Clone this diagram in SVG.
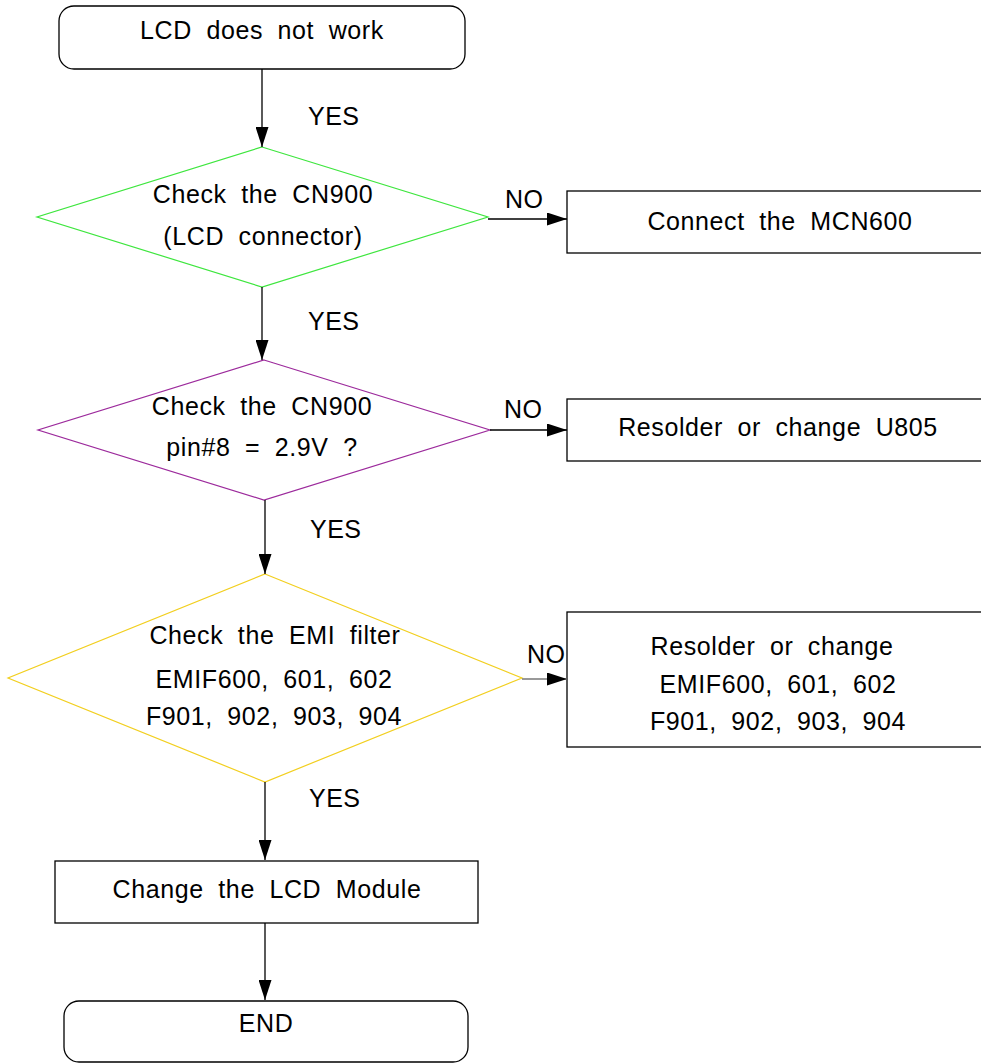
<svg xmlns="http://www.w3.org/2000/svg" width="981" height="1064" viewBox="0 0 981 1064">
<style>
  text { font-family: "Liberation Sans", Arial, sans-serif; font-size: 25px; fill: #000; letter-spacing: 0.6px; word-spacing: 7px; }
  .c { text-anchor: middle; }
  .lbl { font-size: 25px; letter-spacing: 0.5px; word-spacing: 0; }
  .box { fill: #fff; stroke: #000; stroke-width: 1.3; }
  .dia { fill: #fff; stroke-width: 1.2; }
  .conn line { stroke: #000; stroke-width: 1.3; marker-end: url(#arr); }
</style>
<defs>
  <marker id="arr" viewBox="0 0 20 13" markerWidth="20" markerHeight="13" refX="20" refY="6.5" orient="auto" markerUnits="userSpaceOnUse">
    <path d="M0,0 L20,6.5 L0,13 z" fill="#000"/>
  </marker>
</defs>
<rect width="981" height="1064" fill="#fff"/>

<g id="start">
  <rect class="box" x="59" y="6" width="406" height="63" rx="15" ry="15"/>
  <text class="c" x="262" y="39">LCD does not work</text>
</g>

<g id="check-cn900">
  <polygon class="dia" stroke="#3ee63e" points="262,147 488,217 262,287 37,217"/>
  <text class="c" x="263" y="203">Check the CN900</text>
  <text class="c" x="263" y="245">(LCD connector)</text>
</g>

<g id="connect-mcn600">
  <rect class="box" x="567" y="191" width="430" height="62"/>
  <text class="c" x="780" y="230">Connect the MCN600</text>
</g>

<g id="check-pin8">
  <polygon class="dia" stroke="#9c2a9c" points="264,360 490,430 264,500 38,430"/>
  <text class="c" x="262" y="415">Check the CN900</text>
  <text class="c" x="262" y="456">pin#8 = 2.9V ?</text>
</g>

<g id="resolder-u805">
  <rect class="box" x="567" y="399" width="430" height="62"/>
  <text class="c" x="778" y="436">Resolder or change U805</text>
</g>

<g id="check-emi">
  <polygon class="dia" stroke="#f2cf1f" points="265,574 522,678 265,782 8,678"/>
  <text class="c" x="275" y="644">Check the EMI filter</text>
  <text class="c" x="274" y="688">EMIF600, 601, 602</text>
  <text class="c" x="274" y="725">F901, 902, 903, 904</text>
</g>

<g id="resolder-emi">
  <rect class="box" x="567" y="612" width="430" height="135"/>
  <text class="c" x="772" y="655">Resolder or change</text>
  <text class="c" x="778" y="693">EMIF600, 601, 602</text>
  <text class="c" x="778" y="730">F901, 902, 903, 904</text>
</g>

<g id="change-lcd">
  <rect class="box" x="55" y="861" width="423" height="62"/>
  <text class="c" x="267" y="898">Change the LCD Module</text>
</g>

<g id="end">
  <rect class="box" x="64" y="1001" width="404" height="61" rx="15" ry="15"/>
  <text class="c" x="266" y="1032">END</text>
</g>

<g id="connectors" class="conn">
  <line x1="262" y1="69" x2="262" y2="147"/>
  <line x1="262" y1="287" x2="262" y2="360"/>
  <line x1="265" y1="500" x2="265" y2="574"/>
  <line x1="265" y1="782" x2="265" y2="860"/>
  <line x1="265" y1="923" x2="265" y2="1000"/>
  <line x1="488" y1="219" x2="567" y2="219"/>
  <line x1="490" y1="430" x2="567" y2="430"/>
  <line x1="522" y1="679" x2="567" y2="679" style="stroke:#777;stroke-width:1.6"/>
</g>

<g id="labels">
  <text class="lbl" x="308" y="125">YES</text>
  <text class="lbl" x="308" y="330">YES</text>
  <text class="lbl" x="310" y="538">YES</text>
  <text class="lbl" x="309" y="807">YES</text>
  <text class="lbl" x="505" y="208">NO</text>
  <text class="lbl" x="504" y="418">NO</text>
  <text class="lbl" x="527" y="663">NO</text>
</g>
</svg>
